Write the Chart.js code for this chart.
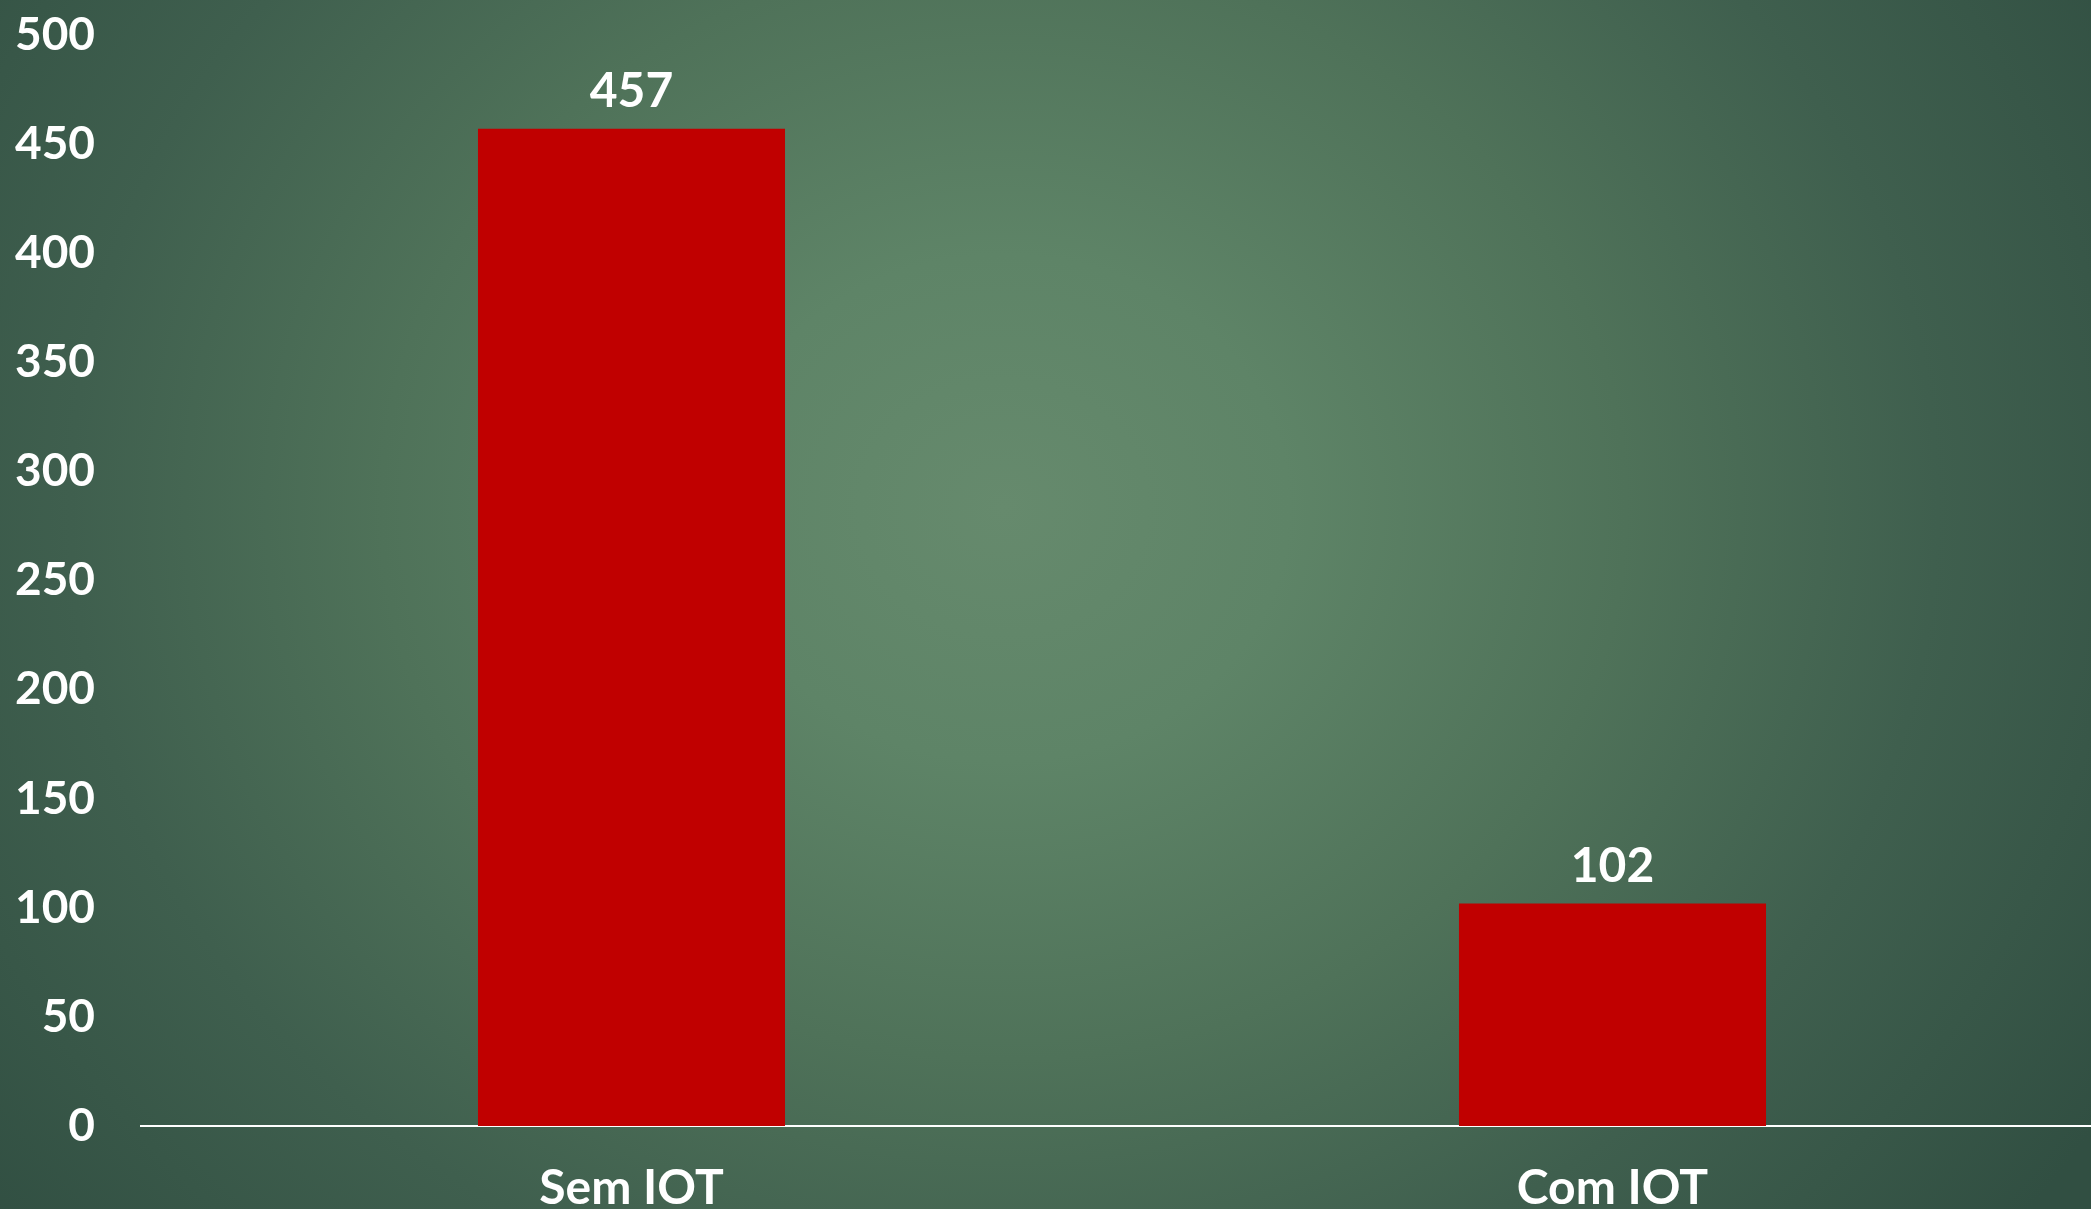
<!DOCTYPE html>
<html>
<head>
<meta charset="utf-8">
<script src="https://cdn.jsdelivr.net/npm/chart.js@4/dist/chart.umd.min.js"></script>
<style>
  html, body { margin: 0; padding: 0; width: 2091px; height: 1209px; overflow: hidden; }
  body {
    background:
      radial-gradient(ellipse 62% 95% at 48% 42%, #668a6d 0%, #5e8467 22%, #4f7259 48%, #3f5f4e 72%, #314f42 100%);
  }
  #wrap { position: absolute; left: 0; top: 0; width: 2103px; height: 1209px; }
</style>
</head>
<body>
<div id="wrap"><canvas id="c" width="2103" height="1209" style="width:2103px;height:1209px"></canvas></div>
<script>
const categories = ['Sem IOT', 'Com IOT'];
const values = [457, 102];
const yMin = 0;
const yMax = 500;
const yStep = 50;

const valueLabels = {
  id: 'valueLabels',
  afterDatasetsDraw(chart) {
    const ctx = chart.ctx;
    const meta = chart.getDatasetMeta(0);
    ctx.save();
    ctx.fillStyle = '#ffffff';
    ctx.font = 'bold 48px Lato';
    ctx.textAlign = 'center';
    ctx.textBaseline = 'middle';
    meta.data.forEach((bar, i) => {
      ctx.fillText(String(values[i]), bar.x, bar.y - 37);
    });
    ctx.restore();
  }
};

new Chart(document.getElementById('c'), {
  type: 'bar',
  data: {
    labels: categories,
    datasets: [{
      data: values,
      backgroundColor: '#C00000',
      borderWidth: 0,
      barPercentage: 0.313,
      categoryPercentage: 1.0
    }]
  },
  options: {
    responsive: false,
    animation: false,
    layout: { padding: { top: 0, left: 0, right: 0, bottom: 0 } },
    plugins: { legend: { display: false }, tooltip: { enabled: false } },
    scales: {
      x: {
        grid: { display: false, drawTicks: false },
        border: { display: true, color: '#ffffff', width: 2 },
        ticks: { color: '#ffffff', font: { family: 'Lato', size: 48, weight: 'bold' }, padding: 34, maxRotation: 0 },
        afterFit(scale) { scale.height = 83; }
      },
      y: {
        min: yMin, max: yMax,
        grid: { display: false, drawTicks: false },
        border: { display: false },
        ticks: { stepSize: yStep, color: '#ffffff', font: { family: 'Lato', size: 46, weight: 'bold' }, padding: 46 },
        afterFit(scale) { scale.width = 141; scale.paddingTop = 35; scale.paddingBottom = 0; }
      }
    }
  },
  plugins: [valueLabels]
});
</script>
</body>
</html>
